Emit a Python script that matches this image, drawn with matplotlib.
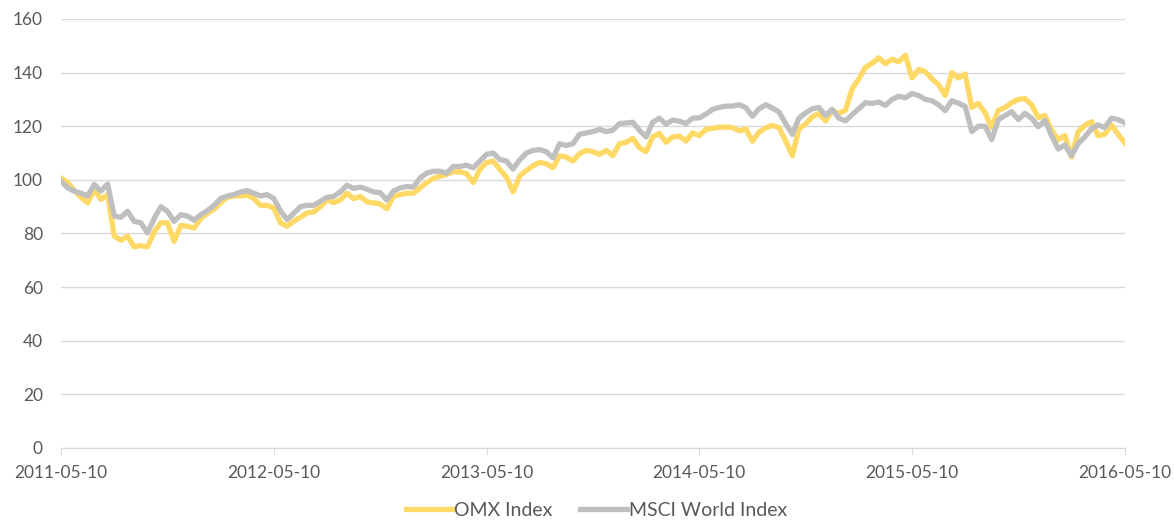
import pandas as pd
import matplotlib
matplotlib.use("Agg")
import matplotlib.pyplot as plt
import matplotlib.dates as mdates

plt.rcParams['font.family'] = ['Lato', 'DejaVu Sans']

# sample dates, evenly spaced between first and last tick
start_date = "2011-05-10"
end_date = "2016-05-10"
n_points = 161

omx = [100.7, 99, 96, 93.5, 91.4, 96.5, 92.7, 94.5, 79, 77.5,
       79, 75, 75.5, 75, 80.5, 84, 84, 77, 83, 82.7,
       82, 85.5, 87.5, 89, 91.5, 93.5, 94, 94, 94.3, 93,
       90.5, 90.5, 89.5, 84, 82.7, 84.6, 86, 87.7, 88, 90,
       92.5, 91.5, 92.5, 95, 93, 93.8, 91.8, 91.4, 91, 89.2,
       93.8, 94.5, 95, 95, 97, 99, 100.5, 101.4, 102, 103,
       103, 102.3, 99, 103.9, 106.5, 107, 103.9, 101, 95.5, 101.5,
       103.5, 105.3, 106.5, 106, 104.5, 109, 108.5, 107, 109.8, 111,
       110.5, 109.5, 111, 109, 113.5, 114, 115.5, 112, 110.5, 116,
       117.3, 114, 116, 116.3, 114.5, 117.5, 116.5, 118.8, 119.2, 119.6,
       119.7, 119.5, 118.3, 119, 114.4, 117.8, 119.4, 120.3, 119.5, 114.5,
       109, 119, 120.8, 123.5, 124.8, 122, 125.7, 124.8, 126, 134,
       137.6, 142, 143.5, 145.5, 143.3, 145, 144, 146.5, 138, 141.2,
       140.3, 137.7, 135.5, 131.5, 140, 138, 139.5, 127, 128.5, 125,
       119.5, 126, 127, 128.8, 130, 130.3, 128, 123.2, 124, 118.5,
       115, 116.5, 108.5, 118, 120.3, 121.7, 116.5, 117, 120.5, 117,
       113.8]

msci = [99.5, 97, 95.8, 95, 94, 98.3, 95.8, 98.5, 86.5, 86,
        88.3, 84.5, 84, 80.2, 85.5, 90, 88.3, 84.5, 87, 86.5,
        85, 87, 88.5, 90.5, 93, 94, 94.5, 95.5, 96, 95,
        94, 94.5, 93, 88.5, 85.2, 87.5, 90, 90.5, 90.5, 92,
        93.5, 93.8, 95.5, 98, 96.8, 97.3, 96.5, 95.5, 95.2, 92.5,
        95.8, 97, 97.5, 97.3, 100.7, 102.5, 103.2, 103.2, 102.5, 105,
        105, 105.5, 104.5, 107, 109.5, 110, 107.6, 107, 104, 107.5,
        110, 111, 111.3, 110.5, 108.2, 113.5, 112.8, 113.5, 117, 117.5,
        118, 118.8, 118, 118.5, 121, 121.2, 121.5, 118.5, 116, 121.5,
        123, 120.8, 122.3, 121.9, 121, 123, 123.1, 124.5, 126.3, 127,
        127.5, 127.5, 128, 127, 123.7, 126.5, 128, 126.8, 125.3, 121,
        117, 123, 125, 126.5, 127, 124, 126.3, 123, 122, 124.3,
        126.5, 128.8, 128.5, 129, 127.8, 130, 131.2, 130.6, 132.2, 131.5,
        130, 129.5, 128, 125.8, 129.5, 128.6, 127.4, 118, 120, 120,
        115, 122.5, 124, 125.4, 122.5, 124.8, 123, 119.8, 122.2, 116.5,
        111.5, 113, 109, 113.5, 116, 119, 120.5, 119.5, 123, 122.5,
        121.3]

tick_dates = ["2011-05-10", "2012-05-10", "2013-05-10", "2014-05-10",
              "2015-05-10", "2016-05-10"]

dates = pd.date_range(start_date, end_date, periods=n_points)

fig = plt.figure(figsize=(11.74, 5.2), dpi=100)
ax = fig.add_axes([0.052, 0.1385, 0.906, 0.825])

ax.plot(dates, omx, color="#FFD966", lw=3.8, label="OMX Index", solid_joinstyle="round")
ax.plot(dates, msci, color="#BFBFBF", lw=3.8, label="MSCI World Index", solid_joinstyle="round")

ax.set_ylim(0, 160)
ax.set_yticks(range(0, 161, 20))
ax.set_xlim(pd.Timestamp(start_date), pd.Timestamp(end_date))
ax.set_xticks(pd.to_datetime(tick_dates))
ax.xaxis.set_major_formatter(mdates.DateFormatter("%Y-%m-%d"))

ax.grid(axis="y", color="#D9D9D9", lw=1)
ax.set_axisbelow(True)
for s in ["top", "right", "left"]:
    ax.spines[s].set_visible(False)
ax.spines["bottom"].set_color("#D9D9D9")
ax.tick_params(axis="y", length=0, pad=13, labelsize=12.5, labelcolor="#595959")
ax.tick_params(axis="x", length=5, color="#D9D9D9", pad=7, labelsize=12.5, labelcolor="#595959")

fig.legend(loc="center", bbox_to_anchor=(0.508, 0.018), ncol=2, frameon=False,
           fontsize=14, labelcolor="#595959", handlelength=2.4, handletextpad=0.1,
           columnspacing=1.4)

fig.savefig("out.png", dpi=100)
